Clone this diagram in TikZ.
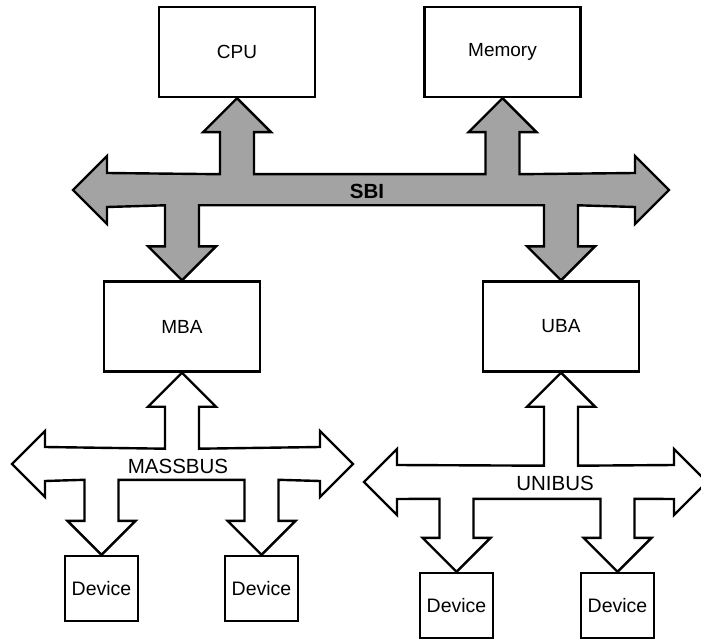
\documentclass[tikz,border=0pt]{standalone}
\usepackage{fontspec}
\setmainfont{Liberation Sans}
\usetikzlibrary{calc}

\tikzset{
  unit/.style={draw, line width=2.4pt, minimum width=156pt, minimum height=90pt,
    inner sep=0pt, font=\fontsize{19}{21}\selectfont},
  device/.style={draw, line width=2.4pt, minimum width=73pt, minimum height=65pt,
    inner sep=0pt, font=\fontsize{19.5}{21}\selectfont},
  bus/.style={draw, line width=2.4pt, line join=miter},
  buslabel/.style={inner sep=0pt, font=\fontsize{20.5}{22}\selectfont}
}
\definecolor{busgray}{gray}{0.64}

\begin{document}
\begin{tikzpicture}[x=1pt, y=-1pt]

\clip (0,0) rectangle (701,639);

\node[unit] (cpu) at (237,52) {CPU};
\node[unit] (mem) at (502.5,52) {Memory};
\node[unit] (mba) at (182,326.5) {MBA};
\node[unit] (uba) at (561,326.5) {UBA};

\node[device] (d1) at (101.5,588.5) {Device};
\node[device] (d2) at (261.5,588.5) {Device};
\node[device] (d3) at (456.5,605.5) {Device};
\node[device] (d4) at (617.5,605.5) {Device};

\coordinate (sbiL) at (73,190);
\coordinate (sbiR) at (669,190);
\coordinate (mbL) at (12,464);
\coordinate (mbR) at (353,464);
\coordinate (ubL) at (364,482);
\coordinate (ubR) at (707,482);

% SBI
\draw[bus, fill=busgray] (sbiL) -- ++(34,-34) -- ++(0,17)
  -- ($(cpu.south)+(-17,76)$) -- ++(0,-42) -- ++(-17,0) -- (cpu.south)
  -- ++(34,34) -- ++(-17,0) -- ++(0,42)
  -- ($(mem.south)+(-17,76)$) -- ++(0,-42) -- ++(-17,0) -- (mem.south)
  -- ++(34,34) -- ++(-17,0) -- ++(0,42)
  -- ($(sbiR)+(-34,-17)$) -- ++(0,-17) -- (sbiR) -- ++(-34,34) -- ++(0,-17)
  -- ($(uba.north)+(17,-75)$) -- ++(0,41) -- ++(17,0) -- (uba.north)
  -- ++(-34,-34) -- ++(17,0) -- ++(0,-41)
  -- ($(mba.north)+(17,-75)$) -- ++(0,41) -- ++(17,0) -- (mba.north)
  -- ++(-34,-34) -- ++(17,0) -- ++(0,-41)
  -- ($(sbiL)+(34,17)$) -- ++(0,17) -- cycle;
\node[buslabel, font=\fontsize{20.5}{22}\selectfont\bfseries] (sbi) at (367,191) {SBI};

% MASSBUS
\draw[bus, fill=white] (mbL) -- ++(33,-33) -- ++(0,16)
  -- ($(mba.south)+(-17,76)$) -- ++(0,-42) -- ++(-17,0) -- (mba.south)
  -- ++(34,34) -- ++(-17,0) -- ++(0,42)
  -- ($(mbR)+(-33,-17)$) -- ++(0,-16) -- (mbR) -- ++(-33,33) -- ++(0,-16)
  -- ($(d2.north)+(17,-75)$) -- ++(0,41) -- ++(17,0) -- (d2.north)
  -- ++(-34,-34) -- ++(17,0) -- ++(0,-41)
  -- ($(d1.north)+(17,-75)$) -- ++(0,41) -- ++(17,0) -- (d1.north)
  -- ++(-34,-34) -- ++(17,0) -- ++(0,-41)
  -- ($(mbL)+(33,17)$) -- ++(0,16) -- cycle;
\node[buslabel] (massbus) at (178,466) {MASSBUS};

% UNIBUS
\draw[bus, fill=white] (ubL) -- ++(33,-33) -- ++(0,16)
  -- ($(uba.south)+(-17,93)$) -- ++(0,-59) -- ++(-17,0) -- (uba.south)
  -- ++(34,34) -- ++(-17,0) -- ++(0,59)
  -- ($(ubR)+(-33,-17)$) -- ++(0,-16) -- (ubR) -- ++(-33,33) -- ++(0,-16)
  -- ($(d4.north)+(17,-73)$) -- ++(0,39) -- ++(17,0) -- (d4.north)
  -- ++(-34,-34) -- ++(17,0) -- ++(0,-39)
  -- ($(d3.north)+(17,-73)$) -- ++(0,39) -- ++(17,0) -- (d3.north)
  -- ++(-34,-34) -- ++(17,0) -- ++(0,-39)
  -- ($(ubL)+(33,17)$) -- ++(0,16) -- cycle;
\node[buslabel] (unibus) at (555,483) {UNIBUS};

\end{tikzpicture}
\end{document}
